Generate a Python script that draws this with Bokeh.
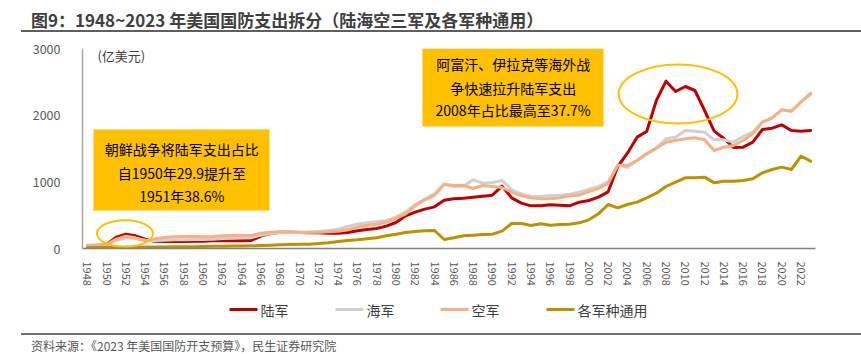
import math
from bokeh.plotting import figure
from bokeh.models import (Label, Div, FixedTicker, Range1d,
                          BoxAnnotation, ColumnDataSource)
from bokeh.layouts import column
from bokeh.embed import file_html
from bokeh.resources import INLINE
from bokeh.core.properties import value

# ---------------- data ----------------
years = list(range(1948, 2024))

army = [
    45, 50, 60, 170, 215, 190, 140, 110, 105, 105,        # 1948-1957
    105, 110, 110, 115, 120, 115, 115, 120, 185, 225,     # 1958-1967
    245, 245, 240, 235, 235, 230, 230, 240, 265, 285,     # 1968-1977
    300, 335, 390, 490, 545, 590, 625, 725, 745, 755,     # 1978-1987
    770, 785, 800, 935, 760, 680, 640, 640, 655, 650,     # 1988-1997
    640, 695, 720, 770, 850, 1230, 1430, 1670, 1755, 2220,  # 1998-2007
    2510, 2355, 2430, 2370, 2070, 1760, 1650, 1515, 1520, 1595,  # 2008-2017
    1785, 1805, 1855, 1770, 1760, 1770,                    # 2018-2023
]

navy = [
    50, 55, 55, 120, 160, 150, 125, 120, 125, 130,
    130, 135, 135, 140, 150, 155, 160, 165, 200, 225,
    235, 240, 240, 245, 255, 270, 290, 330, 365, 385,
    400, 420, 470, 550, 660, 740, 820, 965, 930, 935,
    1030, 980, 990, 1020, 880, 820, 780, 780, 795, 800,
    815, 845, 890, 930, 1000, 1250, 1220, 1320, 1420, 1510,
    1645, 1670, 1770, 1760, 1745, 1630, 1630, 1595, 1680, 1745,
    1895, 1960, 2080, 2060, 2195, 2310,
]

air = [
    40, 50, 60, 140, 185, 160, 115, 145, 165, 175,
    180, 180, 175, 180, 190, 195, 200, 195, 230, 245,
    250, 250, 245, 245, 245, 250, 260, 280, 320, 345,
    365, 395, 450, 520, 640, 730, 800, 965, 945, 945,
    900, 945, 930, 915, 845, 790, 760, 745, 745, 760,
    790, 800, 855, 900, 975, 1250, 1245, 1320, 1420, 1505,
    1595, 1620, 1645, 1660, 1630, 1470, 1520, 1545, 1620, 1720,
    1895, 1960, 2080, 2060, 2200, 2330,
]

general = [
    12, 14, 15, 18, 20, 20, 22, 22, 24, 25,
    27, 28, 30, 32, 34, 36, 38, 40, 45, 50,
    55, 60, 62, 65, 75, 85, 105, 120, 130, 145,
    160, 190, 215, 240, 255, 265, 270, 135, 160, 190,
    200, 210, 215, 260, 375, 375, 345, 370, 350, 360,
    365, 385, 430, 520, 660, 610, 660, 695, 760, 830,
    930, 995, 1060, 1060, 1070, 985, 1010, 1010, 1020, 1045,
    1135, 1185, 1220, 1185, 1385, 1310,
]

series_names = ["陆军", "海军", "空军", "各军种通用"]
series_colors = ["#C00000", "#D0D0D0", "#F4B183", "#BF9000"]

x_ticks = list(range(1948, 2023, 2))
y_ticks = [0, 1000, 2000, 3000]

title_text = "图9：1948~2023 年美国国防支出拆分（陆海空三军及各军种通用）"
source_text = "资料来源：《2023 年美国国防开支预算》，民生证券研究院"
unit_text = "(亿美元)"
note1 = ["朝鲜战争将陆军支出占比", "自1950年29.9提升至", "1951年38.6%"]
note2 = ["阿富汗、伊拉克等海外战", "争快速拉升陆军支出", "2008年占比最高至37.7%"]

FONT = "Noto Sans CJK SC"

# ---------------- main figure ----------------
p = figure(width=861, height=257, output_backend="svg", toolbar_location=None,
           x_range=Range1d(1947.5, 2023.5), y_range=Range1d(0, 3000),
           min_border_left=82, min_border_right=46, min_border_top=15,
           min_border_bottom=42)
p.outline_line_color = None
p.grid.visible = False
p.background_fill_color = "white"
p.border_fill_color = "white"

src = ColumnDataSource(dict(year=years, army=army, navy=navy, air=air, general=general))
for key, color in zip(["army", "navy", "air", "general"], series_colors):
    p.line("year", key, source=src, line_color=color, line_width=3,
           line_join="round", line_cap="round")

# axes
xa = p.xaxis[0]
xa.ticker = FixedTicker(ticks=x_ticks)
xa.major_label_orientation = -math.pi / 2
xa.major_tick_line_color = None
xa.minor_tick_line_color = None
xa.axis_line_color = "#7F7F7F"
xa.axis_line_width = 1.5
xa.major_label_standoff = 7
xa.major_label_text_font = FONT
xa.major_label_text_font_size = "11px"
xa.major_label_text_color = "#595959"

ya = p.yaxis[0]
ya.ticker = FixedTicker(ticks=y_ticks)
ya.major_tick_line_color = None
ya.minor_tick_line_color = None
ya.axis_line_color = "#A6A6A6"
ya.axis_line_width = 1.5
ya.major_label_standoff = 16
ya.major_label_text_font = FONT
ya.major_label_text_font_size = "12.5px"
ya.major_label_text_color = "#595959"

# annotation boxes
p.add_layout(BoxAnnotation(left=1948.64, right=1966.89, bottom=570, top=1785,
                           fill_color="#FFC000", fill_alpha=1, line_color=None))
p.add_layout(BoxAnnotation(left=1982.75, right=2001.52, bottom=1830, top=3000,
                           fill_color="#FFC000", fill_alpha=1, line_color=None))
for txt, yy in zip(note1, [1500, 1140, 795]):
    p.add_layout(Label(x=1957.8, y=yy, text=txt, text_font=FONT, text_font_size="14px",
                       text_align="center", text_baseline="middle", text_color="#000000"))
for txt, yy in zip(note2, [2775, 2415, 2085]):
    p.add_layout(Label(x=1992.15, y=yy, text=txt, text_font=FONT, text_font_size="14px",
                       text_align="center", text_baseline="middle", text_color="#000000"))

# highlight ellipses
p.ellipse(x=[1951.9, 2009.25], y=[225, 2318], width=[5.8, 12.3], height=[400, 885],
          fill_alpha=0, line_color="#FFC000", line_width=2)

# unit label
p.add_layout(Label(x=1949.05, y=2895, text=unit_text, text_font=FONT, text_font_size="13px",
                   text_align="left", text_baseline="middle", text_color="#404040"))

# ---------------- legend strip (frame aligned with main frame: x in page px) ----------------
lg = figure(width=861, height=43, output_backend="svg", toolbar_location=None,
            x_range=Range1d(82, 815), y_range=Range1d(0, 43),
            x_axis_location=None, y_axis_location=None,
            min_border_left=82, min_border_right=46, min_border_top=0, min_border_bottom=0)
lg.outline_line_color = None
lg.grid.visible = False
lg.background_fill_color = "white"
lg.border_fill_color = "white"
leg_x = [229, 335, 440, 546]
leg_y = 24
for name, color, x0 in zip(series_names, series_colors, leg_x):
    lg.segment(x0=[x0], y0=[leg_y], x1=[x0 + 28], y1=[leg_y], line_color=color, line_width=3)
lg.text(x=[x0 + 31 for x0 in leg_x], y=[leg_y] * 4, text=series_names,
        text_font=value(FONT), text_font_size="14px", text_color="#404040",
        text_align="left", text_baseline="middle")

# ---------------- title and footer ----------------
title_html = (
    '<div style="position:relative;width:861px;height:33px;background:white;">'
    '<div style="position:absolute;left:31px;top:11px;font-family:\'Noto Sans CJK SC\';'
    'font-weight:bold;font-size:17px;line-height:17px;color:#3f3f3f;white-space:nowrap;">'
    + title_text + '</div>'
    '<div style="position:absolute;left:21px;width:840px;top:30px;height:2px;background:#5f5f5f;"></div>'
    '</div>')
footer_html = (
    '<div style="position:relative;width:861px;height:21px;background:white;">'
    '<div style="position:absolute;left:21px;width:840px;top:0px;height:2px;background:#6f6f6f;"></div>'
    '<div style="position:absolute;left:31px;top:7px;font-family:\'Noto Sans CJK SC\';'
    'font-size:12px;line-height:12px;color:#595959;white-space:nowrap;">'
    + source_text + '</div>'
    '</div>')

title_div = Div(text=title_html, width=861, height=33, margin=0)
footer_div = Div(text=footer_html, width=861, height=21, margin=0)

layout = column(title_div, p, lg, footer_div, spacing=0, margin=0)

open("out.html", "w").write(file_html(layout, INLINE))
